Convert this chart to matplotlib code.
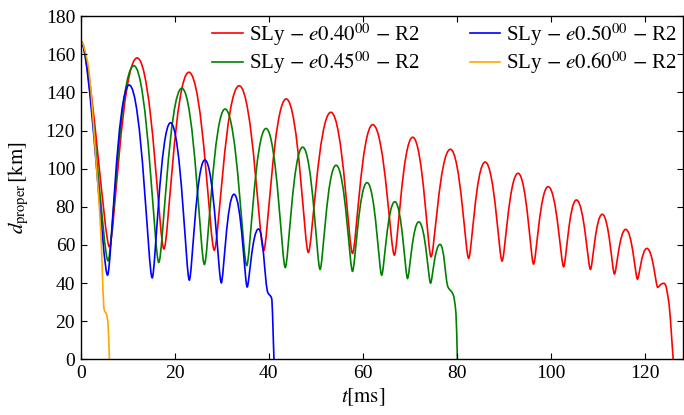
import numpy as np
import matplotlib
matplotlib.use("Agg")
import matplotlib.pyplot as plt
from matplotlib.path import Path
from matplotlib.patches import PathPatch
from matplotlib.lines import Line2D

plt.rcParams['font.family'] = ['Liberation Serif', 'DejaVu Serif']
plt.rcParams['mathtext.fontset'] = 'stix'

# turning points (and a few shoulder points): t [ms], d [km]
t_e040 = [0, 6.1, 12.0, 17.7, 23.0, 28.4, 33.7, 38.9, 43.7, 48.4, 53.2, 57.8,
          62.1, 66.7, 70.6, 74.5, 78.6, 82.5, 86.0, 89.6, 93.0, 96.3, 99.4,
          102.7, 105.4, 108.4, 110.9, 113.5, 115.9, 118.4, 120.4, 122.7, 124.0,
          125.0, 126.0]
d_e040 = [167, 59.0, 158.1, 57.9, 150.6, 57.3, 143.5, 57.0, 136.6, 56.1, 129.6,
          55.6, 123.1, 54.7, 116.5, 53.8, 110.2, 53.0, 103.5, 51.6, 97.6, 50.0,
          90.6, 48.6, 83.6, 47.2, 76.1, 44.8, 68.2, 42.1, 58.2, 37.8, 39.9,
          31.0, 0]

t_e045 = [0, 5.8, 11.3, 16.6, 21.5, 26.3, 30.7, 35.3, 39.4, 43.5, 47.2, 50.9,
          54.3, 57.8, 60.9, 64.0, 66.8, 69.5, 71.9, 74.4, 76.4, 78.1, 79.2,
          79.8, 80.1]
d_e045 = [167, 51.7, 154.0, 50.9, 142.2, 49.8, 131.3, 49.2, 121.1, 48.2, 111.3,
          47.2, 101.8, 46.2, 92.7, 44.2, 82.7, 42.5, 72.1, 40.0, 60.3, 38.0,
          34.0, 24.0, 0]

t_e050 = [0, 5.7, 10.3, 15.2, 19.1, 23.1, 26.4, 29.9, 32.6, 35.4, 37.8, 39.8,
          40.6, 41.1]
d_e050 = [167, 44.2, 143.9, 42.8, 124.1, 41.6, 104.6, 40.2, 86.6, 38.0, 68.4,
          35.0, 32.0, 0]

t_e060 = [0, 1.5, 3.3, 4.25, 5.0, 5.5, 5.8, 6.1]
d_e060 = [167, 155.5, 103.0, 68.0, 26.0, 23.5, 19.0, 0]

labels = [r'SLy $-$ $e0.40^{00}$ $-$ R2', r'SLy $-$ $e0.45^{00}$ $-$ R2',
          r'SLy $-$ $e0.50^{00}$ $-$ R2', r'SLy $-$ $e0.60^{00}$ $-$ R2']
colors = ['red', 'green', 'blue', 'orange']


def smooth_path(t, d):
    # monotone cubic through the read points, handed to matplotlib as bezier segments;
    # handles are long at the maxima and short at the minima (orbits: slow far, fast close)
    t = np.asarray(t, float)
    d = np.asarray(d, float)
    h = np.diff(t)
    s = np.diff(d) / h
    m = np.zeros_like(d)
    f = np.full_like(d, 1 / 3)
    for k in range(1, len(d) - 1):
        if s[k - 1] * s[k] > 0:
            w1 = 2 * h[k] + h[k - 1]
            w2 = h[k] + 2 * h[k - 1]
            m[k] = (w1 + w2) / (w1 / s[k - 1] + w2 / s[k])
        elif s[k - 1] > 0:
            f[k] = 0.55
        else:
            f[k] = 0.17
    m[-1] = s[-1]
    verts = [(t[0], d[0])]
    codes = [Path.MOVETO]
    for k in range(len(h)):
        a = f[k] * h[k]
        b = f[k + 1] * h[k]
        verts += [(t[k] + a, d[k] + m[k] * a),
                  (t[k + 1] - b, d[k + 1] - m[k + 1] * b),
                  (t[k + 1], d[k + 1])]
        codes += [Path.CURVE4] * 3
    return Path(verts, codes)


fig = plt.figure(figsize=(6.84, 4.15), dpi=100)
ax = fig.add_axes([0.118, 0.134, 0.880, 0.827])

series = [(t_e040, d_e040), (t_e045, d_e045), (t_e050, d_e050), (t_e060, d_e060)]
handles = []
for (t, d), c, lab in zip(series, colors, labels):
    ax.add_patch(PathPatch(smooth_path(t, d), facecolor='none', edgecolor=c, lw=1.2))
    handles.append(Line2D([], [], color=c, lw=1.2, label=lab))

ax.set_xlim(0, 128)
ax.set_ylim(0, 180)
ax.set_xticks(np.arange(0, 121, 20))
ax.set_yticks(np.arange(0, 181, 20))
ax.tick_params(direction='in', top=True, right=True, length=4, width=0.8,
               labelsize=14, pad=4)
for sp in ax.spines.values():
    sp.set_linewidth(1.0)

ax.set_xlabel(r'$t[\rm ms]$', fontsize=15)
ax.set_ylabel(r'$d_{\rm proper}\,[\rm km]$', fontsize=15)
ax.xaxis.set_label_coords(0.47, -0.078)
ax.yaxis.set_label_coords(-0.082, 0.5)

ax.legend(handles=handles, loc='upper right', ncol=2, frameon=False,
          fontsize=15, handlelength=1.45, handletextpad=0.3, columnspacing=2.4,
          labelspacing=0.1, borderaxespad=0.15, borderpad=0.1)

fig.savefig('out.png', dpi=100)
